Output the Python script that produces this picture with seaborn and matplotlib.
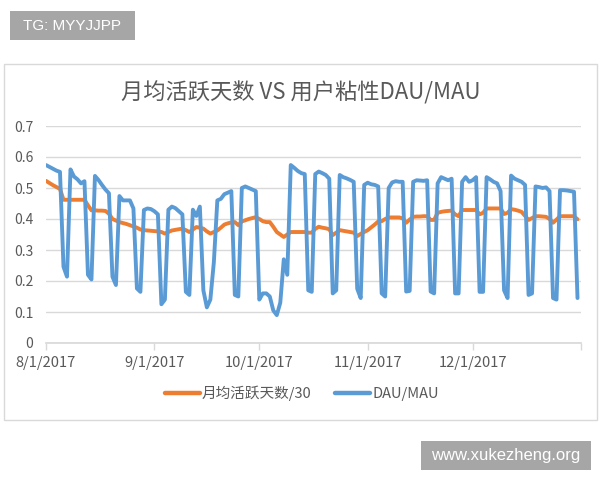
import pandas as pd
import matplotlib
matplotlib.use("Agg")
import matplotlib.pyplot as plt
from matplotlib.patches import Rectangle
import seaborn as sns

# daily values, 8/1/2017 onwards
start_date = "2017-08-01"

active_days_30 = [
    0.523, 0.516, 0.509, 0.503, 0.497, 0.462, 0.462,
    0.462, 0.462, 0.462, 0.462, 0.462, 0.444, 0.428,
    0.428, 0.427, 0.427, 0.426, 0.417, 0.400, 0.395,
    0.390, 0.387, 0.384, 0.380, 0.376, 0.372, 0.366,
    0.364, 0.363, 0.362, 0.361, 0.360, 0.358, 0.353,
    0.358, 0.363, 0.365, 0.367, 0.369, 0.364, 0.358,
    0.366, 0.374, 0.372, 0.369, 0.360, 0.353, 0.358,
    0.363, 0.372, 0.382, 0.386, 0.389, 0.390, 0.380,
    0.392, 0.396, 0.400, 0.403, 0.406, 0.400, 0.393,
    0.390, 0.390, 0.375, 0.358, 0.350, 0.342, 0.350,
    0.358, 0.358, 0.358, 0.358, 0.358, 0.356, 0.356,
    0.368, 0.375, 0.372, 0.370, 0.367, 0.348, 0.356,
    0.364, 0.362, 0.360, 0.358, 0.356, 0.345, 0.352,
    0.358, 0.364, 0.373, 0.382, 0.392, 0.393, 0.400,
    0.405, 0.405, 0.405, 0.405, 0.402, 0.388, 0.398,
    0.407, 0.408, 0.408, 0.409, 0.409, 0.397, 0.397,
    0.420, 0.423, 0.425, 0.426, 0.427, 0.415, 0.409,
    0.429, 0.429, 0.429, 0.429, 0.429, 0.415, 0.420,
    0.434, 0.434, 0.434, 0.434, 0.434, 0.416, 0.420,
    0.432, 0.430, 0.427, 0.423, 0.410, 0.397, 0.403,
    0.409, 0.409, 0.408, 0.407, 0.400, 0.388, 0.398,
    0.409, 0.409, 0.409, 0.409, 0.409, 0.399,
]

dau_mau = [
    0.574, 0.568, 0.562, 0.556, 0.552, 0.246, 0.214,
    0.560, 0.537, 0.528, 0.515, 0.522, 0.220, 0.205,
    0.539, 0.526, 0.510, 0.495, 0.483, 0.214, 0.187,
    0.474, 0.460, 0.460, 0.460, 0.434, 0.176, 0.165,
    0.429, 0.434, 0.432, 0.425, 0.415, 0.125, 0.140,
    0.430, 0.440, 0.435, 0.425, 0.415, 0.165, 0.155,
    0.430, 0.410, 0.440, 0.170, 0.115, 0.140, 0.260,
    0.460, 0.465, 0.480, 0.485, 0.490, 0.155, 0.150,
    0.500, 0.505, 0.500, 0.495, 0.490, 0.140, 0.160,
    0.160, 0.150, 0.105, 0.090, 0.130, 0.270, 0.220,
    0.574, 0.565, 0.555, 0.548, 0.545, 0.170, 0.165,
    0.545, 0.553, 0.548, 0.542, 0.530, 0.160, 0.170,
    0.542, 0.535, 0.531, 0.526, 0.520, 0.175, 0.145,
    0.510, 0.517, 0.512, 0.510, 0.505, 0.160, 0.150,
    0.500, 0.518, 0.522, 0.520, 0.520, 0.166, 0.168,
    0.520, 0.525, 0.524, 0.523, 0.525, 0.166, 0.160,
    0.515, 0.535, 0.530, 0.525, 0.530, 0.160, 0.160,
    0.520, 0.535, 0.520, 0.525, 0.535, 0.165, 0.165,
    0.535, 0.528, 0.520, 0.515, 0.490, 0.170, 0.145,
    0.540, 0.530, 0.525, 0.520, 0.510, 0.155, 0.160,
    0.505, 0.503, 0.500, 0.502, 0.490, 0.145, 0.140,
    0.493, 0.493, 0.492, 0.490, 0.488, 0.145,
]

series_names = ["月均活跃天数/30", "DAU/MAU"]
series_colors = ["#ED7D31", "#5B9BD5"]

month_ticks = ["2017-08-01", "2017-09-01", "2017-10-01", "2017-11-01", "2017-12-01", "2018-01-01"]
month_labels = ["8/1/2017", "9/1/2017", "10/1/2017", "11/1/2017", "12/1/2017", ""]
y_ticks = [0, 0.1, 0.2, 0.3, 0.4, 0.5, 0.6, 0.7]
y_labels = ["0", "0.1", "0.2", "0.3", "0.4", "0.5", "0.6", "0.7"]

dates = pd.date_range(start_date, periods=len(dau_mau), freq="D")
df = pd.DataFrame({"date": dates, series_names[0]: active_days_30, series_names[1]: dau_mau})
long_df = df.melt(id_vars="date", var_name="series", value_name="value")

sns.set_theme(style="white")
plt.rcParams["font.family"] = ["Noto Sans CJK SC", "DejaVu Sans"]
text_gray = "#595959"
grid_gray = "#d9d9d9"

fig = plt.figure(figsize=(6, 4.8), dpi=100)
fig.patch.set_facecolor("white")

# chart frame
fig.patches.append(Rectangle((4 / 600, 1 - 420 / 480), 593 / 600, 356 / 480,
                             transform=fig.transFigure, facecolor="none",
                             edgecolor=grid_gray, lw=1, zorder=-1))

ax = fig.add_axes([46 / 600, 1 - 343 / 480, 535 / 600, 217 / 480])
ax.patch.set_alpha(0)
sns.lineplot(data=long_df, x="date", y="value", hue="series", hue_order=series_names,
             palette=dict(zip(series_names, series_colors)), linewidth=2.8, ax=ax)

ax.set_ylim(0, 0.7)
ax.set_xlim(pd.Timestamp(month_ticks[0]), pd.Timestamp(month_ticks[-1]))
ax.set_yticks(y_ticks)
ax.set_yticklabels(y_labels)
ax.set_xticks(pd.to_datetime(month_ticks))
ax.set_xticklabels(month_labels)
ax.set_xlabel("")
ax.set_ylabel("")
ax.grid(axis="y", color=grid_gray, lw=1)
ax.grid(axis="x", visible=False)
for side in ["top", "right", "left"]:
    ax.spines[side].set_visible(False)
ax.spines["bottom"].set_color(grid_gray)
ax.tick_params(axis="y", length=0, pad=9, labelsize=10, labelcolor=text_gray)
ax.tick_params(axis="x", length=5, width=1, color=grid_gray, direction="out",
               bottom=True, pad=4, labelsize=10.5, labelcolor=text_gray)

fig.text(0.502, 1 - 93 / 480, "月均活跃天数 VS 用户粘性DAU/MAU", ha="center", va="center",
         fontsize=16, color=text_gray, fontweight="light")

handles, labels = ax.get_legend_handles_labels()
leg = ax.legend(handles, labels, loc="center", bbox_to_anchor=(0.503, 1 - 393 / 480),
                bbox_transform=fig.transFigure, ncol=2, frameon=False, fontsize=10.5,
                handlelength=2.4, handletextpad=0.15, columnspacing=1.6)
for t in leg.get_texts():
    t.set_color(text_gray)
for h in leg.get_lines():
    h.set_linewidth(3.2)

# watermarks
fig.patches.append(Rectangle((10 / 600, 1 - 40 / 480), 125 / 600, 29 / 480,
                             transform=fig.transFigure, facecolor="#a6a6a6", edgecolor="none"))
fig.text(72 / 600, 1 - 25.5 / 480, "TG: MYYJJPP", ha="center", va="center",
         fontsize=11, color="white", family=["Liberation Sans", "DejaVu Sans"])
fig.patches.append(Rectangle((421 / 600, 1 - 470 / 480), 170 / 600, 29 / 480,
                             transform=fig.transFigure, facecolor="#a6a6a6", edgecolor="none"))
fig.text(506 / 600, 1 - 455.5 / 480, "www.xukezheng.org", ha="center", va="center",
         fontsize=12, color="white", family=["Liberation Sans", "DejaVu Sans"])

fig.savefig("out.png", dpi=100, facecolor="white")
